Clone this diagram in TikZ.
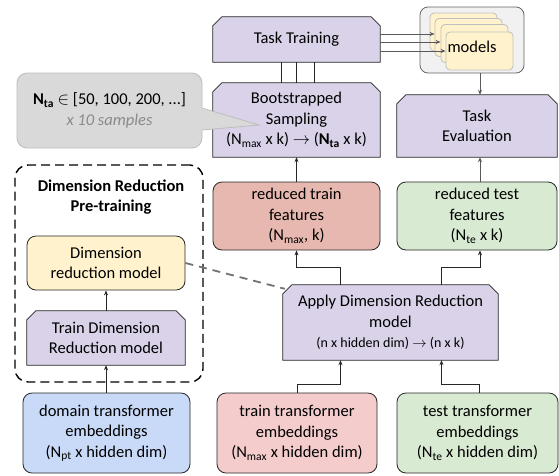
\documentclass[tikz,border=0pt]{standalone}
\usepackage{fontspec}
\setmainfont{Carlito}
\usetikzlibrary{arrows.meta,backgrounds}
\definecolor{lav}{HTML}{D9D2E9}
\definecolor{redd}{HTML}{E6B8AF}
\definecolor{redl}{HTML}{F4CCCC}
\definecolor{grn}{HTML}{D9EAD3}
\definecolor{blu}{HTML}{C9DAF8}
\definecolor{yel}{HTML}{FFF2CC}
\definecolor{callgray}{HTML}{D9D9D9}
\definecolor{callborder}{HTML}{BDBDBD}
\definecolor{grpfill}{HTML}{F1F1F1}
\definecolor{txtgray}{HTML}{8A8A8A}
\newcommand\fsn{\fontsize{16.5}{20.5}\selectfont}
\newcommand\fss{\fontsize{14}{17}\selectfont}
\newcommand\mychamf[2]{\filldraw[fill=#2,draw=black!85,line width=0.8pt]
  (#1.south west) -- ([yshift=-9pt]#1.north west) -- ([xshift=9pt]#1.north west)
  -- ([xshift=-9pt]#1.north east) -- ([yshift=-9pt]#1.north east) -- (#1.south east) -- cycle;}
\tikzset{
  box/.style={draw=black!85,line width=0.8pt,align=center,inner sep=0pt,font=\fsn},
  rbox/.style={box,rounded corners=9pt},
  cbox/.style={align=center,inner sep=0pt,font=\fsn},
  arr/.style={draw=black!85,line width=0.8pt,-{Stealth[length=5pt,width=4pt]}},
  garr/.style={draw=black!65,line width=0.8pt,-{Stealth[length=5pt,width=4pt]}},
  plain/.style={draw=black!85,line width=0.8pt},
  card/.style={draw=black!25,line width=0.8pt,fill=yel,rounded corners=4pt,minimum width=67pt,minimum height=38pt,inner sep=0pt},
}
\begin{document}
\begin{tikzpicture}[x=1pt,y=-1pt]
\useasboundingbox (0,0) rectangle (559,475);

% dashed pre-training group
\node[draw=black,line width=1.4pt,dash pattern=on 9pt off 5pt,rounded corners=13pt,
  minimum width=188pt,minimum height=217pt,inner sep=0pt] (drgrp) at (109,273.5) {};
\node[cbox,font=\fsn\bfseries] (drtitle) at (111,197) {Dimension Reduction\\Pre-training};

% callout
\node[draw=callborder,fill=callgray,line width=0.8pt,rounded corners=10pt,
  minimum width=185pt,minimum height=75pt,inner sep=0pt,align=center,font=\fsn] (callout) at (109.5,110.5)
  {\textbf{N\textsubscript{ta}} $\in$ [50, 100, 200, ...]\\\textcolor{txtgray}{\itshape x 10 samples}};
\fill[callgray] (200.6,108) -- (259,125) -- (200.6,130) -- cycle;
\draw[callborder,line width=0.8pt] (202,108) -- (259,125) -- (202,130);

% models group
\node[draw=black!60,fill=grpfill,line width=0.8pt,rounded corners=8pt,
  minimum width=104pt,minimum height=66pt,inner sep=0pt] (mgrp) at (472,40) {};
\node[card] (card1) at (463.5,32) {};
\node[card] (card2) at (468.5,37.5) {};
\node[card] (card3) at (474.5,43.5) {};
\node[card] (card4) at (479.5,51) {};
\node[cbox] (mlabel) at (472,47) {models};

% chamfered boxes (text nodes)
\node[cbox,minimum width=167pt,minimum height=45pt] (tt) at (296.5,39.5) {Task Training};
\node[cbox,minimum width=167pt,minimum height=74pt] (samp) at (296.5,120) {Bootstrapped\\Sampling\\(N\textsubscript{max} x k) $\rightarrow$ (\textbf{N\textsubscript{ta}} x k)};
\node[cbox,minimum width=160pt,minimum height=62pt] (teval) at (477,126) {Task\\Evaluation};
\node[cbox,minimum width=215pt,minimum height=75pt] (apply) at (390.5,322.5) {Apply Dimension Reduction\\model\\{\fss (n x hidden dim) $\rightarrow$ (n x k)}};
\node[cbox,minimum width=158pt,minimum height=54pt] (traindim) at (106,338) {Train Dimension\\Reduction model};
\begin{scope}[on background layer]
\fill[white] (0,0) rectangle (559,475);
\mychamf{tt}{lav}
\mychamf{samp}{lav}
\mychamf{teval}{lav}
\mychamf{apply}{lav}
\mychamf{traindim}{lav}
\end{scope}

% rounded boxes
\node[rbox,fill=yel,minimum width=158pt,minimum height=54pt] (dimmodel) at (106,263) {Dimension\\reduction model};
\node[rbox,fill=blu,minimum width=167pt,minimum height=80pt] (domain) at (106.5,433) {domain transformer\\embeddings\\(N\textsubscript{pt} x hidden dim)};
\node[rbox,fill=redl,minimum width=160pt,minimum height=80pt] (trainemb) at (297,433) {train transformer\\embeddings\\(N\textsubscript{max} x hidden dim)};
\node[rbox,fill=grn,minimum width=161pt,minimum height=80pt] (testemb) at (477.5,433) {test transformer\\embeddings\\(N\textsubscript{te} x hidden dim)};
\node[rbox,fill=redd,minimum width=167pt,minimum height=68pt] (redtrain) at (296.5,216) {reduced train\\features\\(N\textsubscript{max}, k)};
\node[rbox,fill=grn,minimum width=160pt,minimum height=68pt] (redtest) at (477,216) {reduced test\\features\\(N\textsubscript{te} x k)};

% connectors
\draw[arr] (traindim.north) -- (dimmodel.south);
\draw[arr] (domain.north -| traindim.south) -- (traindim.south);
\draw[arr] (trainemb.north) -- ++(0,-8) -| ([xshift=-50pt]apply.south);
\draw[arr] ([xshift=2pt]testemb.north) -- ++(0,-8) -| ([xshift=51pt]apply.south);
\draw[arr] ([xshift=-50pt]apply.north) -- ++(0,-17) -| (redtrain.south);
\draw[arr] ([xshift=51pt]apply.north) -- ++(0,-17) -| ([xshift=3pt]redtest.south);
\draw[arr] (redtrain.north) -- (samp.south);
\draw[garr] ([xshift=3pt]redtest.north) -- ([xshift=3pt]teval.south);
\draw[plain] ([xshift=-15.5pt]samp.north) -- ([xshift=-15.5pt]tt.south);
\draw[plain] (samp.north) -- (tt.south);
\draw[plain] ([xshift=17.5pt]samp.north) -- ([xshift=17.5pt]tt.south);
\coordinate (t1) at ([yshift=5.5pt]tt.east);
\coordinate (t2) at ([yshift=-2.5pt]tt.east);
\coordinate (t3) at ([yshift=-11.5pt]tt.east);
\draw[garr] (t1) -- (t1 -| card2.west);
\draw[garr] (t2) -- (t2 -| card3.west);
\draw[garr] (t3) -- (t3 -| card4.west);
\coordinate (ev) at ([xshift=3pt]teval.north);
\draw[garr] (ev |- mgrp.south) -- (ev);
\draw[draw=black!55,line width=1.8pt,dash pattern=on 8pt off 6pt] (dimmodel.east) -- ([xshift=2pt,yshift=-4pt]apply.north west);
\end{tikzpicture}
\end{document}
